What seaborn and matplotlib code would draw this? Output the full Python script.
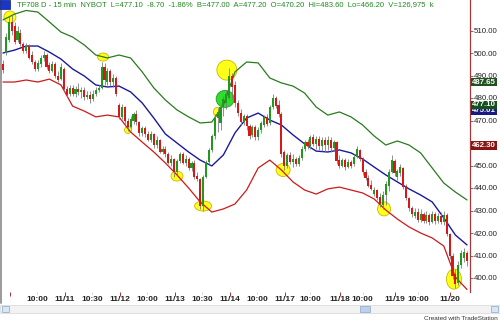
import numpy as np
import pandas as pd
import matplotlib
matplotlib.use("Agg")
import matplotlib.pyplot as plt
import matplotlib.transforms as mtransforms
from matplotlib.patches import Ellipse, Rectangle
from matplotlib.lines import Line2D
import seaborn as sns

# ---------------- data (15-min bars) ----------------
opens = [495, 500, 506, 514, 512, 506, 509, 504, 501, 503, 499, 496, 493, 495, 498, 499, 494.5, 492, 495, 490,
         488.5, 493, 484, 482, 484.5, 482, 484, 482.5, 483.5, 480.5, 481.5, 479.5, 482, 483.5, 484.5, 494, 487, 492, 487, 489,
         477, 471.5, 476, 470, 467, 470, 473, 469.5, 464.5, 466.5, 464, 461.5, 464, 459, 461.5, 456, 457.5, 455, 451, 453,
         447, 452, 455, 451, 453, 449, 451, 445.5, 444, 432, 445, 451.5, 457, 463, 471, 469, 476, 478, 480, 490,
         486, 478, 473.5, 469.5, 472, 467.5, 463.5, 467, 462.5, 466, 468, 471.5, 469, 476, 480, 477, 473, 456, 450, 454.5,
         451.5, 453, 450.5, 453.5, 457.5, 460.5, 458.5, 462.5, 459.5, 462, 458.5, 461.5, 459, 461.5, 458, 460.5, 452.5, 450, 452.5, 449.5,
         451.5, 450.5, 454, 457, 453, 447, 444.5, 441.5, 437.5, 439, 436, 432.5, 437, 441, 447, 452, 445, 446.5, 449, 441,
         435.5, 431, 427.5, 429.5, 426, 428.5, 425.5, 428, 425, 428.5, 425.5, 427.5, 425, 428, 419.5, 410, 402, 398, 406, 409, 411]
highs = [497, 509, 516.5, 517.5, 514, 512, 510.5, 505, 504.5, 504, 501, 497, 497, 499, 501, 500, 496, 496.5, 496, 492,
         495.5, 494, 485.5, 486, 486, 485.5, 486.5, 485, 485, 483, 483, 483.5, 485, 486, 496, 495.5, 493.5, 493, 490.5, 490,
         478, 477.5, 476.5, 471, 472, 474, 474.5, 470, 467.5, 467.5, 465.5, 465.5, 464.5, 463, 462, 458.5, 458.5, 456, 454.5, 453.5,
         453, 456, 456, 454.5, 454, 452, 452.5, 447, 444.5, 446, 452.5, 458, 464, 473, 475.5, 477.5, 481, 483.5, 493.5, 491,
         487.5, 479, 475, 473, 473, 468.5, 468, 468, 467, 470, 472.5, 473, 477, 482, 481, 479, 474, 457, 455.5, 456,
         455, 454, 454.5, 458.5, 461.5, 462, 463.5, 464, 463, 463, 462.5, 462.5, 463, 462.5, 461.5, 461, 454.5, 453.5, 453.5, 453,
         452.5, 455, 458.5, 457.5, 454, 448.5, 446, 443.5, 440.5, 439.5, 438, 438.5, 443, 448.5, 454.5, 453, 448.5, 450.5, 449.5, 442,
         436, 432, 431, 431, 430.5, 429.5, 430, 429, 430, 429.5, 429, 429.5, 430, 429, 420, 411, 404, 407.5, 412.5, 413.5, 412]
lows = [491, 499, 505, 508, 504, 505, 503, 500, 500, 497.5, 495, 492, 492, 494, 496.5, 493, 491, 491.5, 489, 487,
        488, 483, 480.5, 481, 481, 480.5, 481.5, 480, 479, 479.5, 478, 478.5, 481, 482.5, 484, 486, 486, 485.5, 485, 481,
        470.5, 470.5, 468, 465.5, 466.5, 468.5, 468, 463, 463, 462.5, 461, 460.5, 458, 458, 455.5, 455, 454, 450.5, 450, 445,
        446, 451, 450.5, 450, 448, 447.5, 444, 443, 430.5, 430, 444.5, 450.5, 456, 462, 465, 466, 472, 475, 479, 479.5,
        476, 472, 468, 468, 466, 462, 462.5, 461.5, 461.5, 464.5, 467, 467.5, 468, 475, 475.5, 471.5, 454, 448, 449, 450.5,
        449.5, 450, 450, 452.5, 456.5, 457.5, 457.5, 458.5, 457.5, 457, 456.5, 456, 457, 456, 456.5, 450.5, 449, 449.5, 448, 449,
        449, 450, 453.5, 452, 446, 443.5, 440.5, 439, 436.5, 434.5, 431.5, 430.5, 432.5, 438.5, 446.5, 445.5, 443.5, 445.5, 439.5, 434.5,
        430, 427, 426.5, 425, 425, 424.5, 424.5, 423.5, 424.5, 424, 424.5, 424, 423.5, 418.5, 408.5, 399.5, 395.5, 397, 404.5, 407, 405.5]
closes = [492.5, 507, 514, 510, 505, 510, 504, 501, 503, 498, 496, 493, 495.5, 498, 499, 494, 492, 495, 490, 488,
          494, 484, 481.5, 484.5, 482, 484, 482.5, 483.5, 480.5, 481.5, 479.5, 482, 483.5, 484.5, 494, 488, 492, 487, 489, 482,
          471.5, 476, 470, 467, 470.5, 473, 469.5, 464.5, 466.5, 464, 461.5, 464, 459, 461.5, 456, 457.5, 455, 451, 453, 447,
          452, 455, 451, 453, 449, 451, 445, 444, 432, 445, 451.5, 457, 463, 471, 474, 476, 479.5, 482, 490, 485,
          478, 473.5, 469.5, 472, 467.5, 463, 467, 462.5, 466, 469, 471.5, 468.5, 476, 480, 476.5, 473, 455, 450, 454.5, 451.5,
          453, 450.5, 453.5, 457.5, 460.5, 458.5, 462.5, 459.5, 462, 458.5, 461.5, 459, 461.5, 458, 460.5, 452, 450, 452.5, 449.5, 451.5,
          450, 454, 457.5, 453, 447, 444.5, 441, 439.5, 439, 435.5, 433, 437, 442, 447, 452.5, 446.5, 447.5, 449.5, 440.5, 435.5,
          431, 428.5, 429.5, 426, 428.5, 425.5, 428, 425, 428.5, 425.5, 427.5, 425, 428, 419.5, 410, 401, 397.5, 406, 411, 411.5, 407.5]

# band samples (every 4th bar)
band_bar = list(range(0, 161, 4))
upper_band = [514.7, 517.3, 518.9, 518.2, 513.8, 509.3, 507.1, 503.6, 499.1, 497.8, 499.1, 497.8, 491.6, 484.5,
              479.1, 474.7, 471.6, 468.9, 469.3, 476.9, 491.6, 496.0, 495.6, 488.9, 486.7, 485.3, 482.2, 476.0,
              472.4, 473.8, 471.6, 468.0, 463.1, 459.1, 460.9, 459.1, 455.6, 448.9, 442.2, 438.2, 434.7]
mid_band = [500.0, 501.3, 503.1, 503.1, 500.4, 497.3, 492.9, 489.8, 485.8, 484.9, 485.3, 482.7, 477.8, 471.1,
            464.0, 460.0, 456.0, 452.4, 449.8, 454.7, 464.5, 471.1, 473.3, 470.2, 468.0, 463.6, 459.6, 456.4,
            456.0, 456.9, 455.6, 452.9, 449.3, 445.8, 442.7, 439.6, 436.9, 433.8, 426.7, 419.1, 414.7]
lower_band = [487.1, 487.1, 488.0, 487.1, 488.4, 485.8, 476.4, 474.2, 471.6, 472.4, 471.6, 464.9, 460.4, 456.0,
              451.1, 445.8, 440.0, 433.8, 429.3, 430.7, 432.9, 439.1, 448.9, 452.4, 448.0, 442.7, 439.1, 437.3,
              439.6, 440.4, 439.1, 437.8, 435.1, 430.2, 426.2, 422.7, 420.0, 417.8, 414.2, 400.4, 394.9]

# highlighted points (bar index, price)
hl_bar = [2.4, 34.5, 77.2, 76.6, 73.8, 43.1, 60.0, 69.0, 96.6, 131.4, 155.5]
hl_price = [516.0, 498.2, 492.4, 479.6, 473.8, 465.8, 445.3, 432.0, 448.0, 430.7, 399.5]
hl_kind = ["y", "y", "y", "g", "y", "y", "y", "y", "y", "y", "y"]

# axis labels
y_ticks = [400, 410, 420, 430, 440, 450, 460, 470, 480, 490, 500, 510]
date_ticks = [2.5, 21.4, 40.3, 59.3, 78.3, 97.2, 116.2, 135.2, 154.1]
date_labels = ["", "11/11", "11/12", "11/13", "11/14", "11/17", "11/18", "11/19", "11/20"]
time_ticks = [11.7, 30.7, 49.7, 68.7, 87.6, 106.0, 124.0, 143.1]
time_labels = ["10:00", "10:30", "10:00", "10:30", "10:00", "10:00", "10:00", "10:00"]
price_tags = ["487.65", "477.10", "475.01", "462.30"]
price_tag_pos = [487.1, 476.9, 474.3, 458.9]
header = ("TF708 D - 15 min  NYBOT  L=477.10  -8.70  -1.86%  B=477.00  A=477.20  "
          "O=470.20  Hi=483.60  Lo=466.20  V=126,975  k")

# ---------------- drawing ----------------
sns.set_theme(style="white")
plt.rcParams['font.family'] = ['Liberation Sans', 'DejaVu Sans']

W, H = 500, 333
fig = plt.figure(figsize=(5, 3.33), dpi=100)
fig.patch.set_facecolor("white")
ax = fig.add_axes([2 / W, 1 - 292 / H, 468 / W, 292 / H])
ax.set_facecolor("white")

o = np.array(opens); h = np.array(highs); l = np.array(lows); c = np.array(closes)
xb = np.arange(len(c))
up = c >= o

# highlight ellipses (behind everything)
px_x, px_y = 2.9, 2.25  # pixels per bar, pixels per price unit
hl_size = [(12, 12), (11, 8), (20, 20), (18, 17), (7, 9), (7, 7), (12, 10), (17, 10), (14, 13), (13, 14), (15, 20)]
for bx, py, k, (sw, sh) in zip(hl_bar, hl_price, hl_kind, hl_size):
    fc = "#ffff1a" if k == "y" else "#2fdc2f"
    ec = "#c9b800" if k == "y" else "#17a017"
    ax.add_patch(Ellipse((bx, py), sw / px_x, sh / px_y, facecolor=fc, edgecolor=ec,
                         lw=0.6, zorder=1))

# bands
bands = pd.DataFrame({"bar": band_bar, "upper": upper_band, "mid": mid_band, "lower": lower_band})
sns.lineplot(data=bands, x="bar", y="upper", color="#2a7a1e", lw=0.9, ax=ax, legend=False, zorder=2)
sns.lineplot(data=bands, x="bar", y="mid", color="#1a1a9a", lw=1.0, ax=ax, legend=False, zorder=2)
sns.lineplot(data=bands, x="bar", y="lower", color="#cc1a1a", lw=0.9, ax=ax, legend=False, zorder=2)

# candles
ax.vlines(xb, l, h, colors="#7d7d7d", lw=0.6, zorder=3)
body_bottom = np.minimum(o, c)
body_h = np.maximum(np.abs(c - o), 0.4)
ax.bar(xb, body_h, bottom=body_bottom, width=0.75,
       color=np.where(up, "#1f9a1f", "#d81818"), linewidth=0, zorder=4)

ax.set_xlim((2 - 3) / px_x, (470 - 3) / px_x)
ax.set_ylim(400 - (292 - 278) / px_y, 400 + 278 / px_y)
ax.set_xlabel("")
ax.set_ylabel("")

for s in ["left", "top", "bottom"]:
    ax.spines[s].set_visible(False)
ax.spines["right"].set_color("#a03a3a")
ax.spines["right"].set_linewidth(0.9)

ax.yaxis.tick_right()
ax.set_yticks(y_ticks)
ax.set_yticklabels([f"{v:.2f}" for v in y_ticks], fontsize=5.7, color="#222222")
ax.tick_params(axis="y", which="major", direction="out", length=2.5, width=0.6,
               color="#a03a3a", pad=0.5, right=True, left=False)

ax.set_xticks(date_ticks)
ax.set_xticklabels(date_labels, fontsize=6.0, fontweight="bold", color="#222222")
ax.set_xticks(time_ticks, minor=True)
ax.set_xticklabels(time_labels, minor=True, fontsize=6.0, fontweight="bold", color="#222222")
ax.tick_params(axis="x", which="major", direction="out", length=3, width=0.7,
               color="#b03030", pad=0.2, bottom=True)
ax.tick_params(axis="x", which="minor", direction="out", length=1.5, width=0.5,
               color="#bbbbbb", pad=1.7, bottom=True)
ax.grid(False)

# price tags on the right axis
blend = mtransforms.blended_transform_factory(ax.transAxes, ax.transData)
tag_fc = ["#1f521f", "#14501a", "#1a1a80", "#8a1414"]
tag_z = [20, 22, 21, 20]
for txt, pos, fc, z in zip(price_tags, price_tag_pos, tag_fc, tag_z):
    ax.text(1.004, pos, txt, transform=blend, color="white", fontsize=5.7, fontweight="bold",
            ha="left", va="center", clip_on=False, zorder=z,
            bbox=dict(boxstyle="square,pad=0.12", fc=fc, ec="none"))

# header line
fig.patches.append(Rectangle((0, 1 - 9 / H), 10 / W, 9 / H, transform=fig.transFigure,
                             facecolor="#1836c8", edgecolor="#0a1a80", lw=0.5, zorder=5))
fig.text(17 / W, 1 - 5 / H, header, fontsize=5.5, color="#1e8a1e", ha="left", va="center")

# left border
fig.lines.append(Line2D([1.2 / W, 1.2 / W], [1 - 303 / H, 1], transform=fig.transFigure,
                        color="#9a9a9a", lw=1.4))

# scrollbar
fig.patches.append(Rectangle((0, 1 - 313 / H), 1, 8 / H, transform=fig.transFigure,
                             facecolor="#f2f2f2", edgecolor="#d6d6d6", lw=0.5))
fig.patches.append(Rectangle((360 / W, 1 - 312 / H), 10 / W, 6 / H, transform=fig.transFigure,
                             facecolor="#bcd0ea", edgecolor="#8aa6cc", lw=0.5))
fig.patches.append(Rectangle((2 / W, 1 - 312 / H), 7 / W, 6 / H, transform=fig.transFigure,
                             facecolor="#dbe6f4", edgecolor="#8aa6cc", lw=0.5))
fig.patches.append(Rectangle((491 / W, 1 - 312 / H), 7 / W, 6 / H, transform=fig.transFigure,
                             facecolor="#dbe6f4", edgecolor="#8aa6cc", lw=0.5))
fig.text(498 / W, 1 - 319 / H, "Created with TradeStation", fontsize=4.6, color="#333333",
         ha="right", va="center")

fig.savefig("out.png", dpi=100, facecolor="white")
